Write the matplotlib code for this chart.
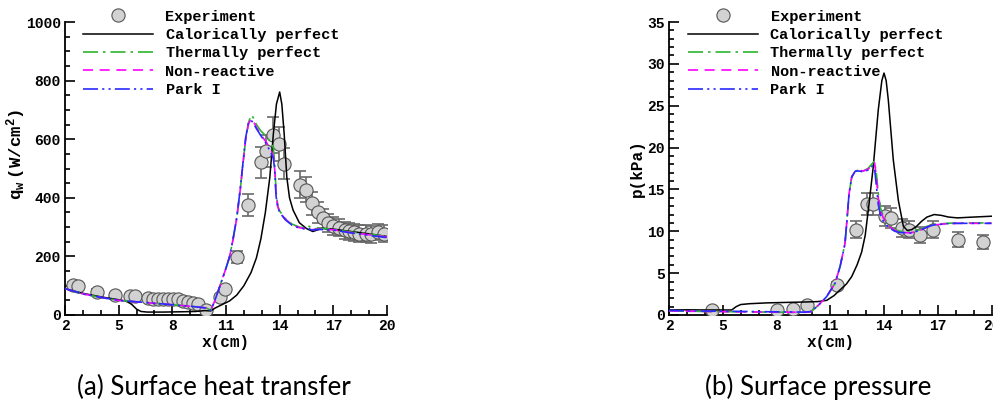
import matplotlib
matplotlib.use("Agg")
import matplotlib.pyplot as plt
from matplotlib.ticker import MultipleLocator

# ---- (a) surface heat transfer ----
exp_x_q = [2.47, 2.74, 3.77, 4.79, 5.63, 5.9, 6.65, 6.93, 7.21, 7.49, 7.77, 8.04, 8.32,
           8.6, 8.88, 9.16, 9.44, 9.9, 10.65, 10.97, 11.62, 12.23, 12.98, 13.25, 13.63,
           13.94, 14.24, 15.11, 15.45, 15.8, 16.14, 16.42, 16.7, 16.98, 17.31, 17.63,
           17.9, 18.18, 18.46, 18.83, 19.1, 19.48, 19.86]
exp_q = [102, 99, 80, 68, 65, 65, 58, 56, 54, 55, 56, 54, 53,
         49, 45, 41, 36, 17, 62, 88, 197, 376, 521, 560, 614,
         583, 517, 445, 428, 381, 350, 330, 313, 304, 298, 290,
         286, 282, 278, 278, 275, 284, 278]
exp_q_err = [10, 10, 8, 7, 6, 6, 6, 6, 5, 5, 6, 5, 5,
             5, 4, 4, 4, 2, 6, 9, 20, 37, 52, 56, 62,
             58, 52, 45, 43, 38, 35, 33, 31, 30, 30, 29,
             29, 28, 28, 28, 28, 28, 28]

cal_x_q = [2.0, 3.0, 4.0, 5.0, 5.5, 5.75, 6.0, 6.25, 6.6, 7.5, 8.5, 9.3, 9.8, 10.15,
           10.4, 10.8, 11.2, 11.6, 12.0, 12.4, 12.7, 12.95, 13.2, 13.45, 13.65, 13.82,
           14.0, 14.12, 14.25, 14.4, 14.55, 14.75, 15.1, 15.5, 15.85, 16.1, 16.4, 17.0,
           18.0, 19.0, 20.0]
cal_q = [90, 74, 62, 52, 46, 35, 20, 12, 10, 10, 11, 12, 15, 14,
         24, 36, 48, 68, 100, 145, 195, 260, 350, 470, 620, 720,
         761, 720, 620, 470, 400, 358, 315, 295, 285, 290, 296, 293,
         285, 277, 268]

th_x_q = [2.0, 3.0, 4.0, 5.0, 6.0, 7.0, 8.0, 9.0, 9.9, 10.15, 10.35, 10.65, 11.0, 11.2,
          11.4, 11.6, 11.8, 11.95, 12.1, 12.25, 12.4, 12.5, 12.7, 12.95, 13.25, 13.5,
          13.65, 13.72, 13.8, 13.9, 14.0, 14.3, 14.7, 15.1, 15.5, 15.65, 15.8, 16.2,
          17.0, 18.0, 19.0, 20.0]
th_q = [90, 72, 60, 50, 45, 40, 35, 30, 24, 16, 45, 97, 160, 199,
        260, 330, 430, 517, 600, 655, 682, 676, 650, 628, 610, 590,
        570, 520, 420, 372, 355, 330, 310, 300, 297, 303, 293, 296,
        293, 283, 276, 268]
nr_q = [90, 72, 60, 50, 45, 40, 35, 30, 24, 16, 45, 97, 160, 199,
        260, 330, 430, 517, 600, 650, 670, 665, 640, 615, 590, 565,
        540, 500, 410, 368, 352, 328, 308, 298, 294, 295, 291, 293,
        291, 281, 274, 266]
park_q = [90, 72, 60, 50, 45, 40, 35, 30, 24, 16, 45, 97, 160, 199,
          262, 332, 432, 520, 605, 655, 664, 658, 636, 612, 585, 555,
          534, 495, 405, 365, 350, 326, 306, 297, 293, 294, 290, 292,
          290, 280, 272, 264]

# ---- (b) surface pressure ----
exp_x_p = [4.42, 8.05, 8.9, 9.72, 11.39, 12.42, 13.03, 13.4, 14.06, 14.39, 15.02, 15.39,
           16.0, 16.75, 18.15, 19.5]
exp_p = [0.6, 0.6, 0.68, 1.2, 3.6, 10.2, 13.3, 13.3, 11.8, 11.6, 10.4, 10.2,
         9.6, 10.2, 9.0, 8.7]
exp_p_err = [0.06, 0.06, 0.07, 0.12, 0.36, 1.0, 1.3, 1.3, 1.2, 1.15, 1.05, 1.0,
             0.95, 1.0, 0.9, 0.87]

cal_x_p = [2.0, 3.0, 4.0, 5.0, 5.5, 5.75, 6.0, 6.5, 7.5, 8.5, 9.5, 10.3, 10.8, 11.2,
           11.55, 11.9, 12.2, 12.5, 12.75, 12.95, 13.15, 13.4, 13.68, 13.88, 14.0, 14.12,
           14.24, 14.52, 14.8, 15.08, 15.3, 15.55, 15.82, 16.1, 16.4, 16.8, 17.2, 17.6,
           18.1, 19.0, 20.0]
cal_p = [0.6, 0.62, 0.6, 0.6, 0.6, 1.0, 1.25, 1.35, 1.45, 1.5, 1.55, 1.6, 1.75, 2.3,
         3.0, 3.7, 4.6, 6.0, 7.5, 9.5, 13.0, 17.7, 24.5, 28.0, 28.9, 28.0,
         25.7, 18.5, 13.7, 10.6, 10.1, 10.2, 10.6, 11.2, 11.7, 12.0, 11.9, 11.7,
         11.6, 11.7, 11.8]

th_x_p = [2.0, 3.0, 4.0, 5.0, 6.0, 7.0, 8.0, 9.0, 9.6, 9.95, 10.4, 10.8, 11.27, 11.55,
          11.82, 11.92, 12.05, 12.2, 12.4, 12.6, 12.84, 13.1, 13.35, 13.47, 13.57, 13.68,
          13.8, 13.96, 14.24, 14.6, 14.9, 15.45, 16.0, 16.4, 16.75, 17.5, 18.06, 20.0]
th_p = [0.5, 0.45, 0.42, 0.4, 0.38, 0.36, 0.34, 0.33, 0.32, 0.4, 1.3, 2.2, 3.8, 5.8,
        8.5, 11.0, 14.5, 16.5, 17.2, 17.3, 17.2, 17.5, 18.1, 18.4, 17.0, 14.5,
        12.8, 11.8, 10.8, 10.2, 10.0, 9.9, 10.2, 10.6, 10.8, 10.95, 11.0, 11.0]
nr_p = [0.5, 0.45, 0.42, 0.4, 0.38, 0.36, 0.34, 0.33, 0.32, 0.4, 1.3, 2.2, 3.8, 5.8,
        8.5, 11.0, 14.5, 16.5, 17.2, 17.3, 17.2, 17.4, 17.9, 18.2, 16.6, 14.0,
        12.5, 11.6, 10.7, 10.1, 9.9, 9.8, 10.1, 10.5, 10.75, 10.9, 10.95, 10.95]
park_p = [0.55, 0.5, 0.47, 0.45, 0.43, 0.4, 0.38, 0.36, 0.34, 0.42, 1.3, 2.2, 3.8, 5.8,
          8.5, 11.0, 14.5, 16.5, 17.2, 17.2, 17.1, 17.3, 17.8, 17.6, 15.5, 13.2,
          12.0, 11.2, 10.5, 10.0, 9.85, 9.8, 10.1, 10.5, 10.75, 10.9, 10.95, 10.95]

x_ticks = [2, 5, 8, 11, 14, 17, 20]

mono = "Liberation Mono"
plt.rcParams["mathtext.fontset"] = "custom"
plt.rcParams["mathtext.rm"] = "Liberation Mono:bold"
plt.rcParams["mathtext.it"] = "Liberation Mono:bold"
plt.rcParams["mathtext.bf"] = "Liberation Mono:bold"

fig = plt.figure(figsize=(9.93, 4.03), dpi=100)
W, H = 993.0, 403.0
ax1 = fig.add_axes([65 / W, 1 - 315 / H, 322 / W, 293 / H])
ax2 = fig.add_axes([669 / W, 1 - 315 / H, 322.5 / W, 293 / H])


def draw(ax, ex, ey, eerr, cx, cy, tx, ty, ny, py):
    ax.errorbar(ex, ey, yerr=eerr, fmt="none", ecolor="#6a6a6a", elinewidth=1.2,
                capsize=4.5, capthick=1.2, zorder=2)
    ax.plot(ex, ey, "o", ms=9.5, mfc="#d2d2d2", mec="#555555", mew=0.8,
            label="Experiment", zorder=3)
    ax.plot(cx, cy, "-", color="black", lw=1.1, label="Calorically perfect", zorder=4)
    ax.plot(tx, ty, color="#2db52d", lw=1.2, dashes=(9, 3, 1.5, 3),
            label="Thermally perfect", zorder=4)
    ax.plot(tx, ny, color="#ff00ff", lw=1.2, dashes=(6, 4),
            label="Non-reactive", zorder=4)
    ax.plot(tx, py, color="#2a2aff", lw=1.2, dashes=(9, 2.5, 1.3, 2.5, 1.3, 2.5),
            label="Park I", zorder=4)

    for s in ["top", "right"]:
        ax.spines[s].set_visible(False)
    for s in ["left", "bottom"]:
        ax.spines[s].set_linewidth(1.3)
    ax.set_xlim(2, 20)
    ax.set_xticks(x_ticks)
    ax.xaxis.set_minor_locator(MultipleLocator(1))
    ax.tick_params(which="both", direction="in", width=1.2, pad=3)
    ax.tick_params(which="major", length=7)
    ax.tick_params(which="minor", length=3.5)
    ax.set_xlabel("x(cm)", fontfamily=mono, fontweight="bold", fontsize=11.5, labelpad=1)


def style_ticklabels(ax):
    for lab in ax.get_xticklabels() + ax.get_yticklabels():
        lab.set_fontfamily(mono)
        lab.set_fontweight("bold")
        lab.set_fontsize(10.5)


draw(ax1, exp_x_q, exp_q, exp_q_err, cal_x_q, cal_q, th_x_q, th_q, nr_q, park_q)
ax1.set_ylim(0, 1000)
ax1.set_yticks([0, 200, 400, 600, 800, 1000])
ax1.yaxis.set_minor_locator(MultipleLocator(50))
style_ticklabels(ax1)
ax1.set_ylabel(r"$\mathrm{q_w\ (W/cm^2)}$", fontsize=12.5)
ax1.yaxis.set_label_coords(-0.115, 0.55)

draw(ax2, exp_x_p, exp_p, exp_p_err, cal_x_p, cal_p, th_x_p, th_p, nr_p, park_p)
ax2.set_ylim(0, 35)
ax2.set_yticks([0, 5, 10, 15, 20, 25, 30, 35])
ax2.yaxis.set_minor_locator(MultipleLocator(1))
style_ticklabels(ax2)
ax2.set_ylabel("p(kPa)", fontfamily=mono, fontweight="bold", fontsize=11.5, labelpad=2)

leg_font = {"family": mono, "weight": "bold", "size": 11}
for ax, lx in [(ax1, 83), (ax2, 688)]:
    fig.legend(handles=ax.get_legend_handles_labels()[0], loc="upper left",
               bbox_to_anchor=(lx / W, 1 - 9.5 / H), frameon=False, prop=leg_font,
               borderpad=0, borderaxespad=0, handlelength=4.6, handletextpad=0.8,
               labelspacing=0.285, numpoints=1)

fig.text(214 / W, 1 - 387 / H, "(a) Surface heat transfer", ha="center", va="center",
         fontfamily="Lato", fontsize=18.7)
fig.text(818 / W, 1 - 387 / H, "(b) Surface pressure", ha="center", va="center",
         fontfamily="Lato", fontsize=18.7)

fig.savefig("out.png", dpi=100)
